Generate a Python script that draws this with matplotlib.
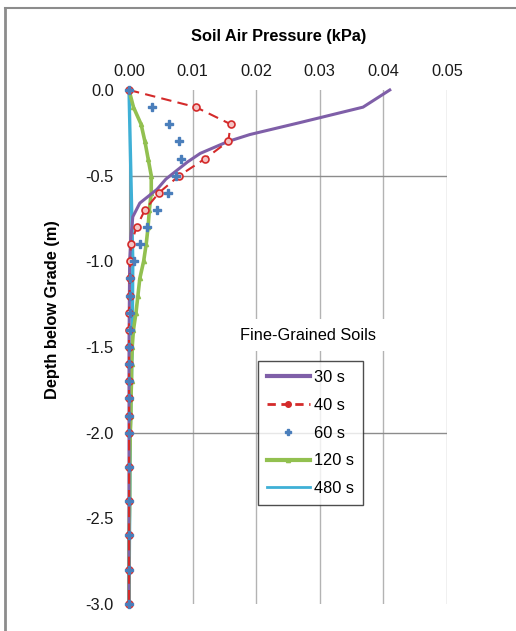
import matplotlib
matplotlib.use("Agg")
import matplotlib.pyplot as plt
from matplotlib.lines import Line2D
import numpy as np

plt.rcParams['font.family'] = ['Liberation Sans', 'DejaVu Sans']

# ---- data ----
depth_30 = [0.0, -0.10, -0.19, -0.26, -0.30, -0.37, -0.42, -0.47, -0.52, -0.58, -0.66, -0.74,
            -0.86, -1.0, -1.5, -2.0, -2.5, -3.0]
p_30 = [0.0410, 0.0368, 0.0269, 0.0190, 0.0156, 0.0112, 0.0092, 0.0075, 0.0058, 0.0044,
        0.0017, 0.0006, 0.0003, 0.0001, 0.0, 0.0, 0.0, 0.0]

depth_40 = [0.0, -0.1, -0.2, -0.3, -0.4, -0.5, -0.6, -0.7, -0.8, -0.9, -1.0,
            -1.1, -1.2, -1.3, -1.4, -1.5, -1.6, -1.7, -1.8, -1.9, -2.0,
            -2.2, -2.4, -2.6, -2.8, -3.0]
p_40 = [0.0, 0.0105, 0.0160, 0.0156, 0.0120, 0.0079, 0.0047, 0.0025, 0.0012, 0.0003, 0.0002,
        0.0001, 0.0001, 0.0, 0.0, 0.0, 0.0, 0.0, 0.0, 0.0, 0.0,
        0.0, 0.0, 0.0, 0.0, 0.0]

depth_60 = depth_40
p_60 = [0.0, 0.0036, 0.0063, 0.0079, 0.0081, 0.0074, 0.0061, 0.0044, 0.0028, 0.0017, 0.0008,
        0.0002, 0.0001, 0.0001, 0.0001, 0.0, 0.0, 0.0, 0.0, 0.0, 0.0,
        0.0, 0.0, 0.0, 0.0, 0.0]

depth_120 = [0.0, -0.1, -0.2, -0.3, -0.4, -0.5, -0.6, -0.7, -0.8, -0.9, -1.0,
             -1.1, -1.2, -1.3, -1.4, -1.5, -1.6, -1.7, -1.8, -1.9, -2.0,
             -2.2, -2.4, -2.6, -2.8, -3.0]
p_120 = [0.0, 0.0007, 0.0019, 0.0025, 0.0030, 0.0035, 0.0035, 0.0032, 0.0030, 0.0027, 0.0023,
         0.0017, 0.0014, 0.0011, 0.0007, 0.0005, 0.0004, 0.0004, 0.0003, 0.0003, 0.0002,
         0.0001, 0.0001, 0.0, 0.0, 0.0]

depth_480 = [0.0, -0.5, -1.0, -1.5, -2.0, -2.5, -3.0]
p_480 = [0.0, 0.0003, 0.0006, 0.0005, 0.0002, 0.0001, 0.0]

x_ticks = [0.00, 0.01, 0.02, 0.03, 0.04, 0.05]
y_ticks = [0.0, -0.5, -1.0, -1.5, -2.0, -2.5, -3.0]

# ---- figure ----
W, H = 516, 631
fig = plt.figure(figsize=(W / 100, H / 100), dpi=100)
ax = fig.add_axes([129 / W, 1 - 604 / H, (447 - 129) / W, (604 - 90) / H])

FS = 11.8
purple = '#7f5fa8'
red = '#d42a2a'
blue = '#4a7ebb'
green = '#92c050'
cyan = '#3fb0d6'

# grid: vertical at every 0.01, horizontal only at -0.5 and -2.0
for xv in x_ticks[1:]:
    ax.axvline(xv, color='#b3b3b3', lw=1.0, zorder=0)
for yv in [-0.5, -2.0]:
    ax.axhline(yv, color='#8c8c8c', lw=1.0, zorder=0)

ax.plot(p_480, depth_480, color=cyan, lw=2.4, zorder=3, clip_on=False)
ax.plot(p_120, depth_120, color=green, lw=2.6, marker='^', ms=3, zorder=4, clip_on=False)
ax.plot(p_30, depth_30, color=purple, lw=2.2, zorder=5, clip_on=False)
ax.plot(p_40, depth_40, color=red, lw=1.5, ls=(0, (5, 3)), marker='o', ms=5,
        mfc='#f4c4c4', mec=red, mew=1.2, zorder=6, clip_on=False)
ax.plot(p_60, depth_60, ls='none', marker='P', ms=5.5, color=blue, zorder=7, clip_on=False)

ax.set_xlim(0, 0.05)
ax.set_ylim(-3.0, 0.0)
ax.xaxis.tick_top()
ax.set_xticks(x_ticks)
ax.set_xticklabels(['%.2f' % v for v in x_ticks])
ax.set_yticks(y_ticks)
ax.set_yticklabels(['%.1f' % v for v in y_ticks])
ax.tick_params(length=0, labelsize=FS, colors='#1a1a1a', pad=11)
ax.tick_params(axis='x', pad=8)
for s in ['top', 'right', 'bottom']:
    ax.spines[s].set_visible(False)
ax.spines['left'].set_color('#8c8c8c')

fig.text(279 / W, 1 - 36 / H, 'Soil Air Pressure (kPa)', ha='center', va='center',
         fontsize=FS, fontweight='bold')
fig.text(53 / W, 1 - 310 / H, 'Depth below Grade (m)', ha='center', va='center',
         rotation=90, fontsize=FS, fontweight='bold')

# legend with separate title above it
ax.text(0.0282, -1.43, 'Fine-Grained Soils', ha='center', va='center', fontsize=FS,
        bbox=dict(facecolor='white', edgecolor='none', pad=6), zorder=8)
handles = [
    Line2D([], [], color=purple, lw=3),
    Line2D([], [], color=red, lw=2, ls=(0, (3, 2)), marker='o', ms=4, mfc=red, mec=red),
    Line2D([], [], ls='none', marker='P', ms=5, color=blue),
    Line2D([], [], color=green, lw=3, marker='^', ms=3),
    Line2D([], [], color=cyan, lw=2),
]
leg = ax.legend(handles, ['30 s', '40 s', '60 s', '120 s', '480 s'],
                loc='upper left', bbox_to_anchor=((258 - 129) / 318, 1 - (361 - 90) / 514),
                fontsize=FS, frameon=True, fancybox=False, edgecolor='#222222',
                handlelength=2.6, handletextpad=0.25, labelspacing=0.78, borderpad=0.55,
                borderaxespad=0)
leg.get_frame().set_linewidth(1.0)
leg.set_zorder(9)

# outer chart border (left and top visible)
fig.add_artist(Line2D([5 / W, 5 / W], [0, 1 - 8 / H], color='#8c8c8c', lw=2))
fig.add_artist(Line2D([5 / W, 1], [1 - 8 / H, 1 - 8 / H], color='#8c8c8c', lw=1.5))

fig.savefig('out.png', dpi=100)
